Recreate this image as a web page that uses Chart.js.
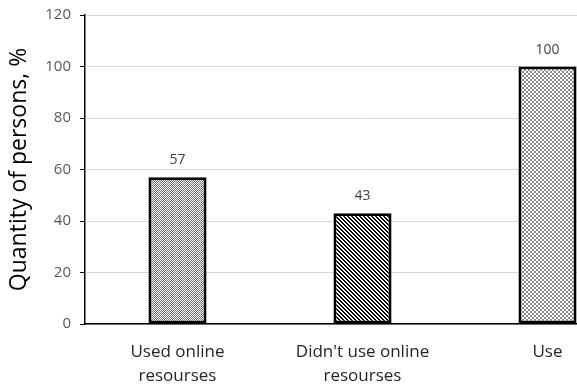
<!DOCTYPE html>
<html>
<head>
<meta charset="utf-8">
<script src="https://cdn.jsdelivr.net/npm/chart.js@4"></script>
<style>
  html, body { margin: 0; padding: 0; background: #fff; overflow: hidden; }
  #wrap { position: relative; width: 640px; height: 392px; margin-top: -3px; }
</style>
</head>
<body>
<div id="wrap"><canvas id="c"></canvas></div>
<script>
// Survey answers: share of respondents for each group
const categories = [["Used online", "resourses"], ["Didn't use online", "resourses"], "Use"];
const shares = [57, 43, 100];
const yTicks = [0, 20, 40, 60, 80, 100, 120];
const yTitle = "Quantity of persons, %";

// Hatch fills for the three bars
function makePattern(size, painter) {
  const cv = document.createElement('canvas');
  cv.width = size; cv.height = size;
  const g = cv.getContext('2d');
  g.fillStyle = '#fff';
  g.fillRect(0, 0, size, size);
  painter(g, size);
  return g.createPattern(cv, 'repeat');
}
const ctxMain = document.getElementById('c').getContext('2d');
const fineChecker = makePattern(2, (g) => {
  g.fillStyle = '#6e6e6e';
  g.fillRect(0, 0, 1, 1);
  g.fillRect(1, 1, 1, 1);
});
const diagonal = makePattern(4, (g) => {
  g.fillStyle = '#000';
  for (let y = 0; y < 4; y++) {
    for (let x = 0; x < 4; x++) {
      const d = ((x - y) % 4 + 4) % 4;
      if (d === 0 || d === 1) g.fillRect(x, y, 1, 1);
    }
  }
});
const coarseChecker = makePattern(4, (g) => {
  g.fillStyle = '#8a8a8a';
  g.fillRect(0, 0, 2, 2);
  g.fillRect(2, 2, 2, 2);
});

// Value labels above each bar
const valueLabels = {
  id: 'valueLabels',
  afterDatasetsDraw(chart) {
    const { ctx } = chart;
    const meta = chart.getDatasetMeta(0);
    ctx.save();
    ctx.font = '14px "Open Sans", "Noto Sans", sans-serif';
    ctx.fillStyle = '#404040';
    ctx.textAlign = 'center';
    ctx.textBaseline = 'alphabetic';
    meta.data.forEach((bar, i) => {
      ctx.fillText(String(shares[i]), bar.x, bar.y - 13);
    });
    ctx.restore();
  }
};

new Chart(ctxMain, {
  type: 'bar',
  data: {
    labels: categories,
    datasets: [{
      data: shares,
      backgroundColor: [fineChecker, diagonal, coarseChecker],
      borderColor: '#000',
      borderWidth: 3,
      borderSkipped: false,
      categoryPercentage: 1,
      barPercentage: 0.314
    }]
  },
  options: {
    responsive: true,
    maintainAspectRatio: false,
    animation: false,
    layout: { padding: { top: 12, right: 0, left: 0, bottom: 0 } },
    plugins: { legend: { display: false }, tooltip: { enabled: false } },
    scales: {
      x: {
        grid: { display: false, drawTicks: false },
        border: { display: true, color: '#000', width: 1.5 },
        ticks: {
          color: '#262626',
          font: { family: '"Open Sans", "Noto Sans", sans-serif', size: 17, lineHeight: 1.42 },
          padding: 16,
          maxRotation: 0,
          autoSkip: false
        },
        afterFit(scale) { scale.height = 65; }
      },
      y: {
        min: 0,
        max: 120,
        afterBuildTicks(scale) { scale.ticks = yTicks.map(v => ({ value: v })); },
        grid: { color: '#d9d9d9', lineWidth: 1, tickColor: '#000', tickLength: 5 },
        border: { display: true, color: '#000', width: 1.5 },
        ticks: {
          color: '#595959',
          font: { family: '"Open Sans", "Noto Sans", sans-serif', size: 15 },
          padding: 9
        },
        title: {
          display: true,
          text: yTitle,
          color: '#000',
          font: { family: '"Open Sans", "Noto Sans", sans-serif', size: 23 },
          padding: { top: 6, bottom: 0 }
        },
        afterFit(scale) { scale.width = 85; }
      }
    }
  },
  plugins: [valueLabels]
});
</script>
</body>
</html>
